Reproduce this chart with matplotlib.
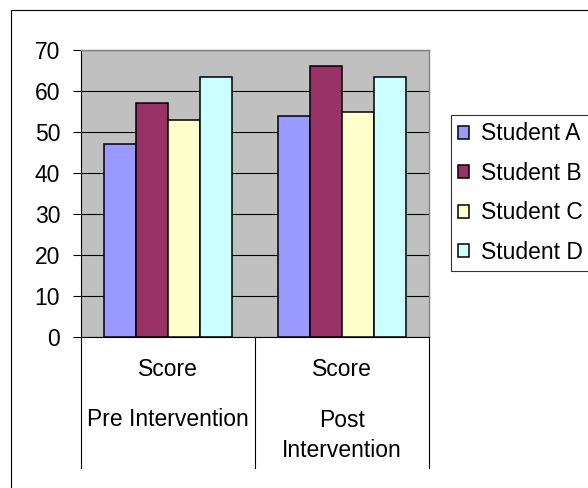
import numpy as np
import matplotlib
matplotlib.use('Agg')
import matplotlib.pyplot as plt
from matplotlib.patches import Rectangle, Patch
from matplotlib.transforms import blended_transform_factory

plt.rcParams['font.family'] = ['Liberation Sans', 'DejaVu Sans']

# scores per student, one value per category
students = ['Student A', 'Student B', 'Student C', 'Student D']
student_a = [47, 54]
student_b = [57, 66]
student_c = [53, 55]
student_d = [63.5, 63.5]
series = [student_a, student_b, student_c, student_d]
colors = ['#9999FF', '#993366', '#FFFFCC', '#CCFFFF']

# two-level category labels
top_labels = ['Score', 'Score']
bottom_labels = ['Pre Intervention', 'Post\nIntervention']

fs = 16.5
ind = np.arange(len(top_labels))
width = 0.183

fig = plt.figure(figsize=(5.88, 4.88), dpi=100)
ax = fig.add_axes([81/588, 1 - 337/488, 348/588, 287/488])
ax.set_facecolor('#C0C0C0')

for i, vals in enumerate(series):
    ax.bar(ind + (i - 1.5) * width, vals, width, color=colors[i],
           edgecolor='black', linewidth=1.1, zorder=3)

ax.set_xlim(-0.5, 1.5)
ax.set_ylim(0, 70)
ax.set_yticks(np.arange(0, 71, 10))
ax.yaxis.grid(True, color='black', linewidth=0.8, zorder=1)
ax.set_axisbelow(True)
ax.set_xticks([])
ax.tick_params(axis='y', direction='out', length=6, width=0.8, pad=9,
               labelsize=fs, colors='black')
for side in ['top', 'right']:
    ax.spines[side].set_color('#808080')
    ax.spines[side].set_linewidth(1.0)
for side in ['left', 'bottom']:
    ax.spines[side].set_color('black')
    ax.spines[side].set_linewidth(0.8)

# category dividers and labels below the axis
trans = blended_transform_factory(ax.transData, ax.transAxes)
for x in [-0.5, 0.5, 1.5]:
    ax.plot([x, x], [0, -131/287], transform=trans, color='black',
            linewidth=0.8, clip_on=False)
for i in ind:
    ax.text(i, -33/287, top_labels[i], transform=trans, ha='center',
            va='center', fontsize=fs)
    ax.text(i, -83/287 if '\n' not in bottom_labels[i] else -98.5/287,
            bottom_labels[i], transform=trans, ha='center', va='center',
            fontsize=fs, linespacing=1.35)

handles = [Patch(facecolor=c, edgecolor='black', linewidth=1.1) for c in colors]
leg = fig.legend(handles, students, loc='upper left',
                 bbox_to_anchor=(451/588, 1 - 115/488), borderaxespad=0,
                 fontsize=fs, frameon=True, fancybox=False, edgecolor='black',
                 handlelength=0.48, handleheight=0.48, handletextpad=0.5,
                 labelspacing=0.72, borderpad=0.32)
leg.get_frame().set_linewidth(0.8)

# chart border
fig.patches.append(Rectangle((11/588, -0.1), 1.2, 1 - 10/488 + 0.1,
                             transform=fig.transFigure, fill=False,
                             edgecolor='black', linewidth=0.8))

fig.savefig('out.png', dpi=100)
